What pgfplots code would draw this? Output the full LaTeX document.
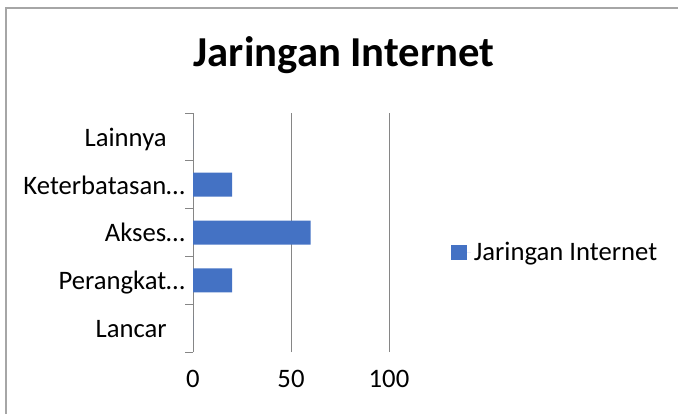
\documentclass[border=0pt]{standalone}
\usepackage{fontspec}
\setmainfont{Carlito}
\usepackage{pgfplots}
\pgfplotsset{compat=1.18}
\definecolor{barblue}{HTML}{4472C4}
\definecolor{gridgrey}{HTML}{868686}
\definecolor{framegrey}{HTML}{A6A6A6}
\begin{document}
\begin{tikzpicture}
% page is 678x414 px, 1px = 0.75pt
\path[use as bounding box] (0,0) rectangle (508.5pt,310.5pt);
\draw[framegrey, line width=0.9pt] (4.5pt,0) -- (4.5pt,304.5pt) -- (508.5pt,304.5pt);
\node[font=\fontsize{32}{38}\selectfont\bfseries, anchor=base] at (258pt,260.25pt) {Jaringan Internet};
\begin{axis}[
    at={(144.75pt,46.5pt)}, anchor=south west,
    scale only axis, width=147pt, height=179.25pt,
    xbar, bar width=18pt,
    xmin=0, xmax=100, ymin=-0.5, ymax=4.5,
    xtick={0,50,100},
    ytick={0,1,2,3,4},
    yticklabels={Lancar\kern13.5pt, Perangkat…, Akses…, Keterbatasan…, Lainnya\kern13.5pt},
    minor ytick={-0.5,0.5,1.5,2.5,3.5,4.5},
    axis lines*=left,
    axis line style={-, draw=gridgrey, line width=0.75pt},
    x axis line style={draw=none},
    xmajorgrids,
    major grid style={draw=gridgrey, line width=0.75pt},
    major tick length=0pt,
    minor tick length=6pt,
    tick align=outside,
    xtick style={draw=none},
    minor tick style={draw=gridgrey, line width=0.75pt},
    /pgf/number format/assume math mode=true,
    tick label style={font=\fontsize{20}{24}\selectfont},
    xticklabel style={anchor=base, inner sep=0pt, yshift=-26.25pt},
    yticklabel style={anchor=base east, inner sep=0pt, xshift=-6pt, yshift=-7.1pt},
    legend style={at={(axis description cs:1.316,0.418)}, anchor=west,
        draw=none, fill=none, inner sep=0pt, font=\fontsize{20}{24}\selectfont},
    legend image code/.code={\fill[#1] (0pt,-5.6pt) rectangle (11.5pt,5.6pt);
        \path (0pt,0pt) -- (15pt,0pt);},
]
\addplot[fill=barblue, draw=none] coordinates {(0,0) (20,1) (60,2) (20,3) (0,4)};
\addlegendentry{Jaringan Internet}
\end{axis}
\end{tikzpicture}
\end{document}
